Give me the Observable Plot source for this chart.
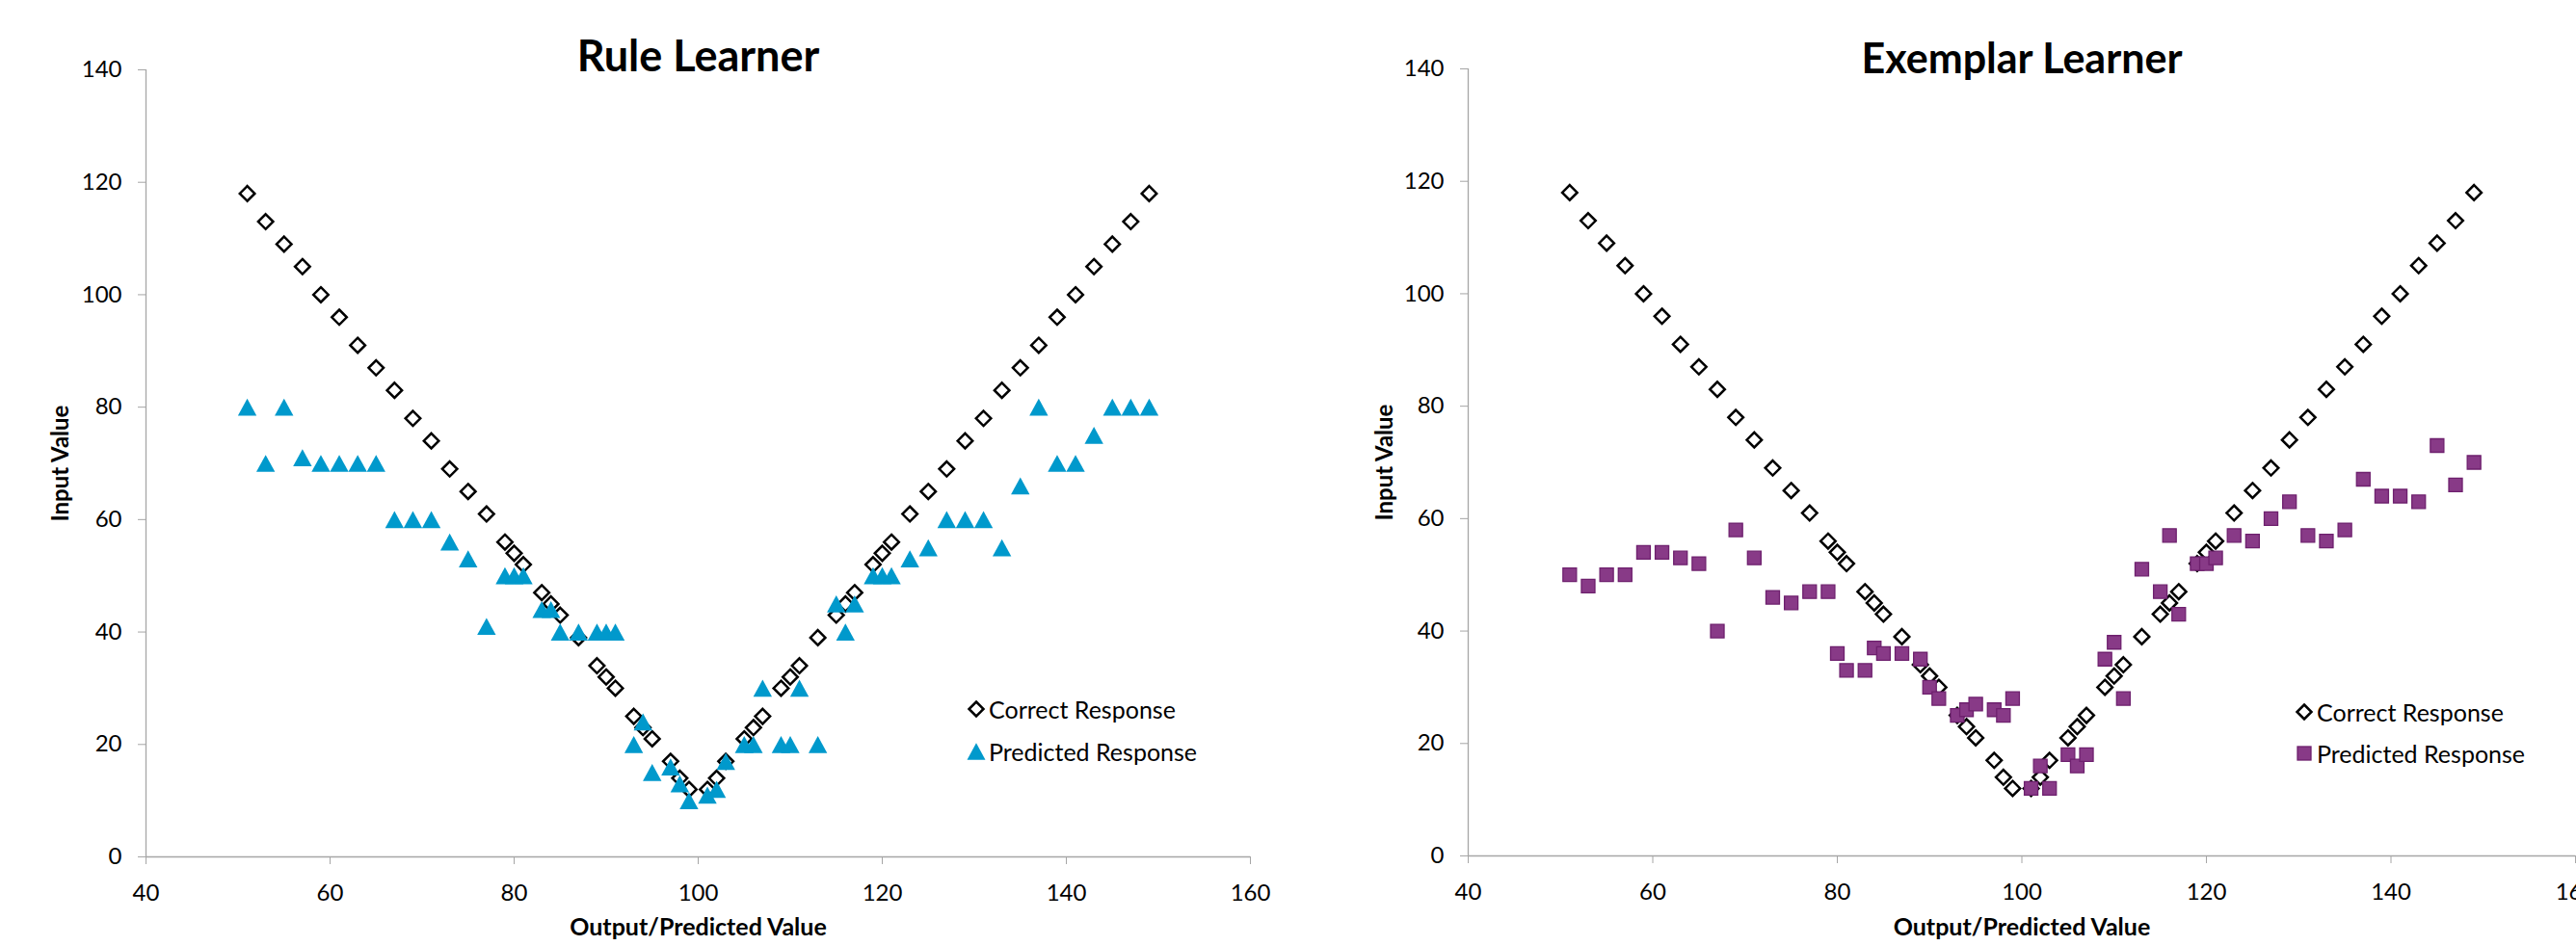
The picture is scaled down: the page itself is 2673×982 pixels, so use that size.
<!DOCTYPE html>
<html>
<head>
<meta charset="utf-8">
<script src="https://cdn.jsdelivr.net/npm/d3@7"></script>
<script src="https://cdn.jsdelivr.net/npm/@observablehq/plot@0.6"></script>
<style>
html, body { margin: 0; padding: 0; background: #fff; overflow: hidden; }
#wrap { position: relative; width: 2673px; height: 982px; font-family: Lato, sans-serif; }
.panel { position: absolute; top: 0; }
.panel svg { overflow: visible; }
.lrow { position: absolute; display: flex; align-items: center; white-space: nowrap;
        font-family: Lato, sans-serif; font-size: 25px; color: #000; height: 30px; }
.lrow svg { margin-right: 3px; }
</style>
</head>
<body>
<div id="wrap"></div>
<script>
// ---------- data ----------
const outputValue = [51,53,55,57,59,61,63,65,67,69,71,73,75,77,79,80,81,83,84,85,87,89,90,91,93,94,95,97,98,99,
                     101,102,103,105,106,107,109,110,111,113,115,116,117,119,120,121,123,125,127,129,131,133,135,137,139,141,143,145,147,149];
const correctInput = [118,113,109,105,100,96,91,87,83,78,74,69,65,61,56,54,52,47,45,43,39,34,32,30,25,23,21,17,14,12,
                      12,14,17,21,23,25,30,32,34,39,43,45,47,52,54,56,61,65,69,74,78,83,87,91,96,100,105,109,113,118];
const ruleInput = [80,70,80,71,70,70,70,70,60,60,60,56,53,41,50,50,50,44,44,40,40,40,40,40,20,24,15,16,13,10,
                   11,12,17,20,20,30,20,20,30,20,45,40,45,50,50,50,53,55,60,60,60,55,66,80,70,70,75,80,80,80];
const exemplarInput = [50,48,50,50,54,54,53,52,40,58,53,46,45,47,47,36,33,33,37,36,36,35,30,28,25,26,27,26,25,28,
                       12,16,12,18,16,18,35,38,28,51,47,57,43,52,52,53,57,56,60,63,57,56,58,67,64,64,63,73,66,70];
const xTicks = [40, 60, 80, 100, 120, 140, 160];
const yTicks = [0, 20, 40, 60, 80, 100, 120, 140];
const panelTitles = ["Rule Learner", "Exemplar Learner"];
const seriesNames = ["Correct Response", "Predicted Response"];
const xLabel = "Output/Predicted Value";
const yLabel = "Input Value";

// ---------- styles ----------
const axisGray = "#a6a6a6";
const blue = "#0099cc";
const purple = "#883a87";
const purpleEdge = "#6e206e";

const triangleSym = {
  draw(ctx, size) {
    const s = Math.sqrt(size);
    const w = s * 0.7, h = s * 0.64;
    ctx.moveTo(0, -h);
    ctx.lineTo(w, h);
    ctx.lineTo(-w, h);
    ctx.closePath();
  }
};

const rows = (ys) => outputValue.map((x, i) => ({x, y: ys[i]}));

function panel(opts) {
  const marks = [
    Plot.ruleY([0], {stroke: axisGray, strokeWidth: 1.3}),
    Plot.ruleX([40], {stroke: axisGray, strokeWidth: 1.3}),
    Plot.axisX({ticks: xTicks, tickSize: 8, tickPadding: 20, stroke: axisGray, fill: "#000", label: null, fontSize: 24}),
    Plot.axisY({ticks: yTicks, tickSize: 8, tickPadding: 17, stroke: axisGray, fill: "#000", label: null, fontSize: 24}),
    Plot.dot(rows(correctInput), {x: "x", y: "y", symbol: "diamond2", r: 7, stroke: "#000", strokeWidth: 2.5, fill: "#fff"}),
    opts.predMark,
    Plot.text([opts.title], {text: d => d, frameAnchor: "top", dy: opts.titleDy, lineAnchor: "middle", textAnchor: "middle",
                             fontSize: opts.titleSize, fontWeight: "bold", fill: "#000"}),
    Plot.text([yLabel], {text: d => d, frameAnchor: "left", rotate: -90, dx: opts.yLabelDx, lineAnchor: "middle", textAnchor: "middle",
                         fontSize: 24, fontWeight: "bold", fill: "#000"}),
    Plot.text([xLabel], {text: d => d, frameAnchor: "bottom", dy: opts.xLabelDy, lineAnchor: "middle", textAnchor: "middle",
                         fontSize: 25, fontWeight: "bold", fill: "#000"})
  ];
  return Plot.plot({
    width: opts.width,
    height: 982,
    marginLeft: opts.marginLeft,
    marginRight: opts.marginRight,
    marginTop: opts.marginTop,
    marginBottom: opts.marginBottom,
    x: {domain: [40, 160]},
    y: {domain: [0, 140]},
    style: {fontFamily: "Lato, sans-serif", fontSize: "24px", color: "#000", background: "transparent", overflow: "visible"},
    marks
  });
}

const wrap = document.getElementById("wrap");

const left = panel({
  title: panelTitles[0], titleSize: 45, width: 1336, marginLeft: 151, marginRight: 39, marginTop: 72, marginBottom: 93,
  titleDy: -13, yLabelDx: -88, xLabelDy: 73,
  predMark: Plot.dot(rows(ruleInput), {x: "x", y: "y", symbol: triangleSym, r: 7.8, fill: blue})
});
const leftDiv = document.createElement("div");
leftDiv.className = "panel"; leftDiv.style.left = "0px"; leftDiv.style.width = "1336px";
leftDiv.appendChild(left);
wrap.appendChild(leftDiv);

const right = panel({
  title: panelTitles[1], titleSize: 43, width: 1337, marginLeft: 187, marginRight: 1, marginTop: 71, marginBottom: 94,
  titleDy: -9, yLabelDx: -86, xLabelDy: 74,
  predMark: Plot.dot(rows(exemplarInput), {x: "x", y: "y", symbol: "square", r: 7.9, fill: purple, stroke: purpleEdge, strokeWidth: 1.3})
});
const rightDiv = document.createElement("div");
rightDiv.className = "panel"; rightDiv.style.left = "1336px"; rightDiv.style.width = "1337px";
rightDiv.appendChild(right);
wrap.appendChild(rightDiv);

// ---------- legends ----------
const sw = {
  diamond: `<svg width="20" height="20" viewBox="-10 -10 20 20"><path d="M0,-7.5L7.5,0L0,7.5L-7.5,0Z" fill="#fff" stroke="#000" stroke-width="2.5"/></svg>`,
  triangle: `<svg width="20" height="20" viewBox="-10 -10 20 20"><path d="M0,-8.7L9.5,8.7L-9.5,8.7Z" fill="${blue}"/></svg>`,
  square: `<svg width="20" height="20" viewBox="-10 -10 20 20"><rect x="-7" y="-7" width="14" height="14" fill="${purple}" stroke="${purpleEdge}" stroke-width="1.3"/></svg>`
};
function legendRow(cx, cy, swatch, label) {
  const d = document.createElement("div");
  d.className = "lrow";
  d.style.left = (cx - 10) + "px";
  d.style.top = (cy - 15) + "px";
  d.innerHTML = swatch + `<span>${label}</span>`;
  wrap.appendChild(d);
}
legendRow(1013, 736, sw.diamond, seriesNames[0]);
legendRow(1013, 780, sw.triangle, seriesNames[1]);
legendRow(2391, 739, sw.diamond, seriesNames[0]);
legendRow(2391, 782, sw.square, seriesNames[1]);
</script>
</body>
</html>
